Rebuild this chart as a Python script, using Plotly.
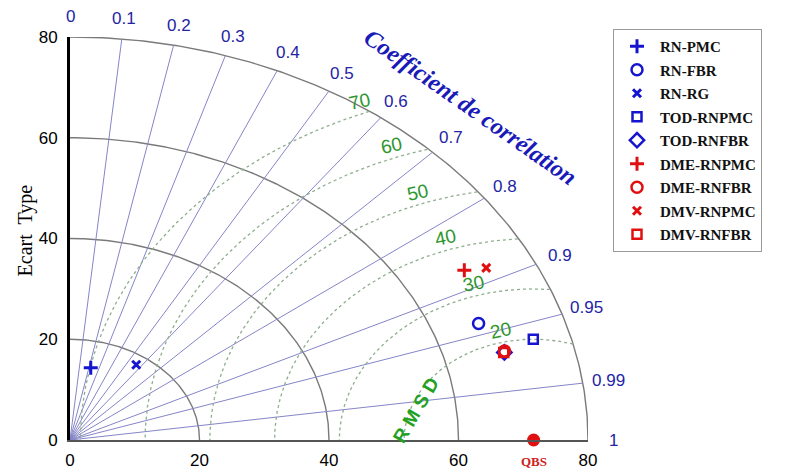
import numpy as np
import plotly.graph_objects as go

# ---------------- data ----------------
models = ["RN-PMC", "RN-FBR", "RN-RG", "TOD-RNPMC", "TOD-RNFBR",
          "DME-RNPMC", "DME-RNFBR", "DMV-RNPMC", "DMV-RNFBR"]
std_dev = [14.7, 67.2, 18.1, 74.3, 69.3, 69.6, 69.4, 72.8, 69.2]
correlation = [0.218, 0.939, 0.565, 0.963, 0.968, 0.875, 0.967, 0.883, 0.968]
ref_name = "QBS"
ref_std = 71.6
std_ticks = [0, 20, 40, 60, 80]
corr_ticks = [0, 0.1, 0.2, 0.3, 0.4, 0.5, 0.6, 0.7, 0.8, 0.9, 0.95, 0.99, 1]
corr_tick_text = ["0", "0.1", "0.2", "0.3", "0.4", "0.5", "0.6", "0.7", "0.8",
                  "0.9", "0.95", "0.99", "1"]
rmsd_levels = [20, 30, 40, 50, 60, 70]
rmsd_label_angle = [103.2, 106.6, 108.8, 110.1, 110.6, 111.8]

# ---------------- styles ----------------
BLUE = "#1515d0"
RED = "#e01010"
sym = ["cross-thin-open", "circle-open", "x-thin-open", "square-open", "diamond-open",
       "cross-thin-open", "circle-open", "x-thin-open", "square-open"]
col = [BLUE] * 5 + [RED] * 4
msize = [10, 11, 8, 9, 11, 10, 11, 8, 9]
mlw = [3, 2.5, 3, 2.5, 2.5, 3, 2.5, 3, 2.5]
RMAX = 80.0

fig = go.Figure()

# std-dev arcs
t = np.linspace(0, np.pi / 2, 200)
for s in std_ticks[1:]:
    fig.add_trace(go.Scatter(x=s * np.cos(t), y=s * np.sin(t), mode="lines",
                             line=dict(color="#7a7a7a", width=1.4),
                             hoverinfo="skip", showlegend=False))

# correlation rays
for c in corr_ticks[1:-1]:
    a = np.arccos(c)
    fig.add_trace(go.Scatter(x=[0, RMAX * np.cos(a)], y=[0, RMAX * np.sin(a)],
                             mode="lines", line=dict(color="#8585c8", width=1),
                             hoverinfo="skip", showlegend=False))

# RMSD circles
tt = np.linspace(0, np.pi, 800)
for r in rmsd_levels:
    x = ref_std + r * np.cos(tt)
    y = r * np.sin(tt)
    keep = (x ** 2 + y ** 2 <= RMAX ** 2) & (x >= 0)
    fig.add_trace(go.Scatter(x=x[keep], y=y[keep], mode="lines",
                             line=dict(color="#8fae8f", width=1.3, dash="dot"),
                             hoverinfo="skip", showlegend=False))

# reference point
fig.add_trace(go.Scatter(x=[ref_std], y=[0], mode="markers",
                         marker=dict(color=RED, size=13, symbol="circle"),
                         cliponaxis=False, showlegend=False, name=ref_name))

# model points
for i, m in enumerate(models):
    a = np.arccos(correlation[i])
    fig.add_trace(go.Scatter(
        x=[std_dev[i] * np.cos(a)], y=[std_dev[i] * np.sin(a)], mode="markers",
        name=m, legendgroup=m,
        marker=dict(symbol=sym[i], size=msize[i], color=col[i],
                    line=dict(color=col[i], width=mlw[i])),
        cliponaxis=False))

ann = []
C = dict(xanchor="center", yanchor="middle", xref="paper", yref="paper",
         showarrow=False)
# correlation labels
for c, txt in zip(corr_ticks, corr_tick_text):
    a = np.arccos(c)
    rr = 84.0
    ann.append(dict(x=rr * np.cos(a) / RMAX, y=rr * np.sin(a) / RMAX, text=txt,
                    font=dict(family="Liberation Sans", size=17, color="#2424a4"),
                    **C))

# RMSD labels
for r, ang in zip(rmsd_levels, rmsd_label_angle):
    d = r + 2.4
    th = np.radians(ang)
    ann.append(dict(x=(ref_std + d * np.cos(th)) / RMAX, y=d * np.sin(th) / RMAX,
                    text=str(r), textangle=-12,
                    font=dict(family="Liberation Sans", size=19, color="#2e962e"),
                    **C))

ann.append(dict(x=53.5 / RMAX, y=6.0 / RMAX, text="R M S D", textangle=-60,
                font=dict(family="Liberation Sans", size=19, color="#22a022",
                          weight="bold"), **C))

ann.append(dict(x=61.8 / RMAX, y=66.1 / RMAX, text="Coefficient de corrélation",
                textangle=35,
                font=dict(family="Liberation Serif", size=24, color="#1a1ab8",
                          weight="bold", style="italic"), **C))

ann.append(dict(x=ref_std / RMAX, y=0, yshift=-21, text="QBS",
                font=dict(family="Liberation Serif", size=13, color="#d02020",
                          weight="bold"), **C))

ann.append(dict(x=-45 / 518, y=0.52, text="Ecart  Type", textangle=-90,
                font=dict(family="Liberation Serif", size=20, color="black"), **C))

fig.update_layout(
    width=799, height=464,
    margin=dict(l=62, r=219, t=29, b=32),
    paper_bgcolor="white", plot_bgcolor="white",
    annotations=ann,
    xaxis=dict(range=[0, RMAX], tickvals=std_ticks, showgrid=False, zeroline=False,
               showline=True, linecolor="#555555", linewidth=2, ticks="",
               ticklabelstandoff=4, automargin=False,
               tickfont=dict(family="Liberation Sans", size=17, color="black")),
    yaxis=dict(range=[0, RMAX], tickvals=std_ticks, showgrid=False, zeroline=False,
               showline=True, linecolor="black", linewidth=3, ticks="",
               ticklabelstandoff=6, automargin=False,
               tickfont=dict(family="Liberation Sans", size=17, color="black")),
    legend=dict(x=(613 - 70) / 518, y=1.02, xanchor="left", yanchor="top",
                bordercolor="#9a9a9a", borderwidth=1, bgcolor="white",
                tracegroupgap=1, maxheight=600, itemwidth=36,
                font=dict(family="Liberation Serif", size=15, color="#111111",
                          weight="bold")),
    showlegend=True,
)

fig.write_html("out.html")
